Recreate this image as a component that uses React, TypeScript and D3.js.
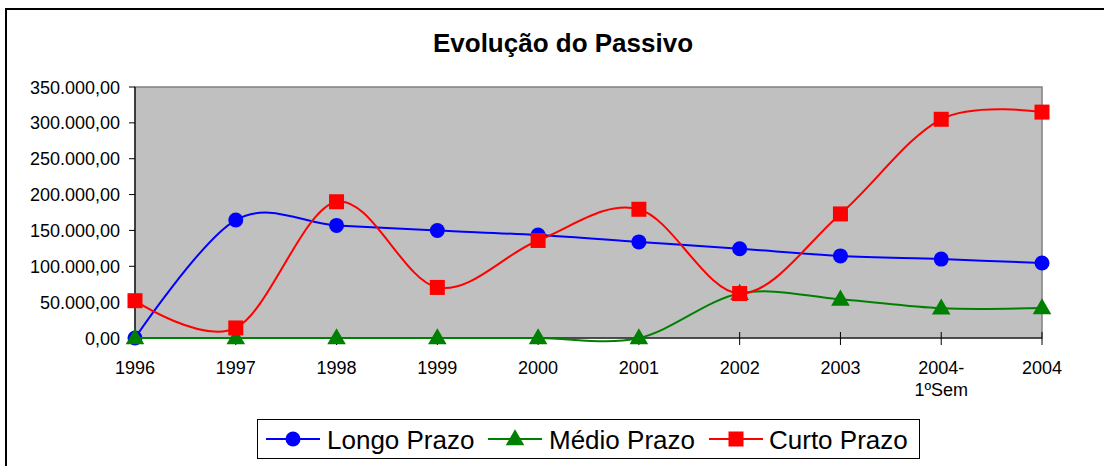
import React from "react";
import * as d3 from "d3";

// categories and series
const categories = ["1996", "1997", "1998", "1999", "2000", "2001", "2002", "2003", "2004-1ºSem", "2004"];
const categoryLabels = [["1996"], ["1997"], ["1998"], ["1999"], ["2000"], ["2001"], ["2002"], ["2003"], ["2004-", "1ºSem"], ["2004"]];
const longoPrazo = [0, 164500, 157000, 150000, 143500, 134000, 124500, 114500, 110000, 104500];
const medioPrazo = [0, 0, 0, 0, 0, 0, 62000, 54000, 41500, 42000];
const curtoPrazo = [52000, 14000, 190000, 70500, 136000, 179500, 62000, 173000, 305000, 315000];
const yTicks = [0, 50000, 100000, 150000, 200000, 250000, 300000, 350000];

const series = [
  { name: "Longo Prazo", values: longoPrazo, color: "#0000ff", marker: "circle" },
  { name: "Médio Prazo", values: medioPrazo, color: "#008000", marker: "triangle" },
  { name: "Curto Prazo", values: curtoPrazo, color: "#ff0000", marker: "square" },
];

const W = 1104;
const H = 466;
const plot = { left: 135, right: 1042, top: 87, bottom: 338 };
const font = "'Liberation Sans', Arial, sans-serif";

const ptBR = d3.formatLocale({ decimal: ",", thousands: ".", grouping: [3], currency: ["R$", ""] });
const fmt = ptBR.format(",.2f");

const Marker = ({ kind, x, y, color }: { kind: string; x: number; y: number; color: string }) => {
  if (kind === "circle") return <circle cx={x} cy={y} r={7.5} fill={color} />;
  if (kind === "square") return <rect x={x - 7.5} y={y - 7.5} width={15} height={15} fill={color} />;
  const s = d3.symbol(d3.symbolTriangle, 150)();
  return <path d={s || ""} transform={`translate(${x},${y + 1})`} fill={color} />;
};

export default function App() {
  const x = d3.scalePoint<string>().domain(categories).range([plot.left, plot.right]);
  const y = d3.scaleLinear().domain([0, 350000]).range([plot.bottom, plot.top]);

  const line = d3
    .line<number>()
    .x((_, i) => x(categories[i]) as number)
    .y((d) => y(d))
    .curve(d3.curveCardinal.tension(0));

  const legendItems = [
    { lineX: 266, textX: 327 },
    { lineX: 488, textX: 549 },
    { lineX: 709, textX: 769 },
  ];

  return (
    <svg width={W} height={H} style={{ position: "absolute", left: 0, top: 0, background: "#fff" }} fontFamily={font}>
      <rect x={6} y={9} width={1110} height={470} fill="#fff" stroke="#000" strokeWidth={2} />
      <text x={563} y={52} textAnchor="middle" fontSize={26} fontWeight="bold">
        Evolução do Passivo
      </text>

      <rect
        x={plot.left}
        y={plot.top}
        width={plot.right - plot.left}
        height={plot.bottom - plot.top}
        fill="#c0c0c0"
        stroke="#808080"
        strokeWidth={1.5}
      />
      {/* axes */}
      <line x1={plot.left} x2={plot.left} y1={plot.top} y2={plot.bottom} stroke="#000" strokeWidth={1.2} />
      <line x1={plot.left} x2={plot.right} y1={plot.bottom} y2={plot.bottom} stroke="#000" strokeWidth={1.2} />
      {yTicks.map((t) => (
        <g key={t}>
          <line x1={plot.left - 6} x2={plot.left} y1={y(t)} y2={y(t)} stroke="#000" strokeWidth={1} />
          <text x={120} y={y(t) + 6.5} textAnchor="end" fontSize={18}>
            {fmt(t)}
          </text>
        </g>
      ))}
      {categories.map((c, i) => (
        <g key={c}>
          <line x1={x(c)} x2={x(c)} y1={plot.bottom - 6} y2={plot.bottom + 7} stroke="#000" strokeWidth={1} />
          {categoryLabels[i].map((l, j) => (
            <text key={j} x={x(c)} y={373.5 + j * 22} textAnchor="middle" fontSize={18}>
              {l}
            </text>
          ))}
        </g>
      ))}

      {series.map((s) => (
        <g key={s.name}>
          <path d={line(s.values) || ""} fill="none" stroke={s.color} strokeWidth={2} />
          {s.values.map((v, i) => (
            <Marker key={i} kind={s.marker} x={x(categories[i]) as number} y={y(v)} color={s.color} />
          ))}
        </g>
      ))}

      {/* legend */}
      <rect x={257.5} y={419.5} width={662} height={39} fill="#fff" stroke="#000" strokeWidth={1} />
      {series.map((s, i) => (
        <g key={s.name}>
          <line x1={legendItems[i].lineX} x2={legendItems[i].lineX + 54} y1={439} y2={439} stroke={s.color} strokeWidth={2} />
          <Marker kind={s.marker} x={legendItems[i].lineX + 27} y={439} color={s.color} />
          <text x={legendItems[i].textX} y={449} fontSize={26}>
            {s.name}
          </text>
        </g>
      ))}
    </svg>
  );
}
